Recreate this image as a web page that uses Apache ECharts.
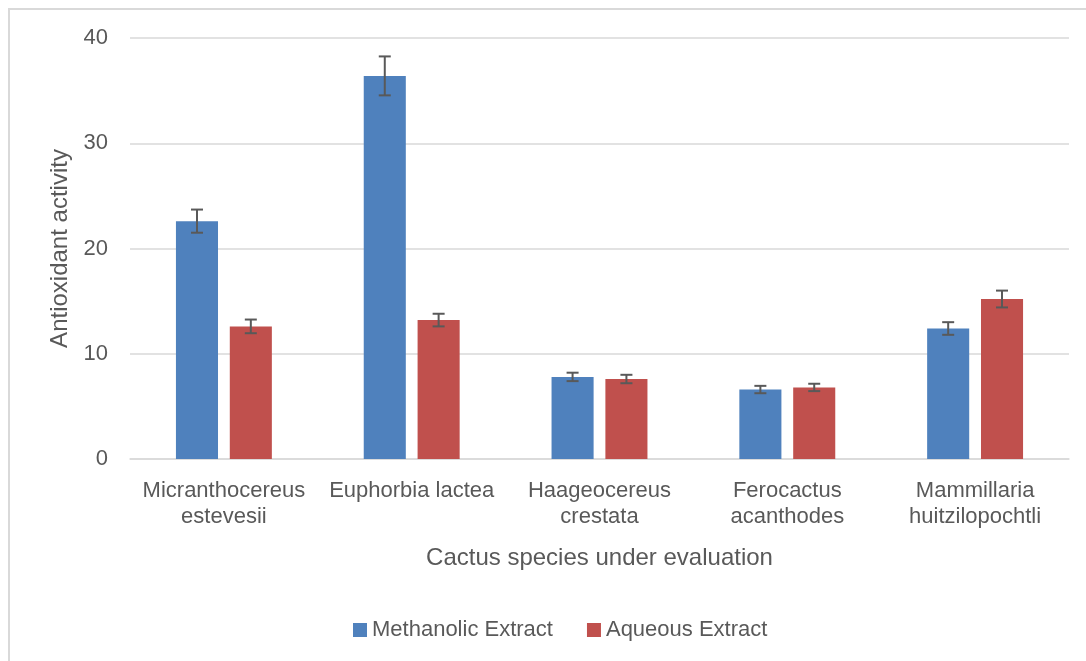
<!DOCTYPE html>
<html>
<head>
<meta charset="utf-8">
<script src="https://cdn.jsdelivr.net/npm/echarts@6/dist/echarts.min.js"></script>
<style>
  html, body { margin: 0; padding: 0; background: #fff; }
  #chart { width: 1086px; height: 661px; }
</style>
</head>
<body>
<div id="chart"></div>
<script>
// 数据
var categories = ['Micranthocereus\nestevesii', 'Euphorbia lactea', 'Haageocereus\ncrestata', 'Ferocactus\nacanthodes', 'Mammillaria\nhuitzilopochtli'];
var methanolic = [22.6, 36.4, 7.8, 6.6, 12.4];
var methanolicErr = [1.1, 1.85, 0.4, 0.35, 0.6];
var aqueous = [12.6, 13.2, 7.6, 6.8, 15.2];
var aqueousErr = [0.65, 0.6, 0.4, 0.35, 0.8];
var yTicks = [0, 10, 20, 30, 40];

var textColor = '#595959';
var fontFamily = '"Liberation Sans", Arial, sans-serif';
var barWidthRatio = 0.224;
var barGapRatio = 0.28;

// 误差线数据 [类别序号, 下限, 上限]
function errData(vals, errs) {
    return vals.map(function (v, i) { return [i, v - errs[i], v + errs[i]]; });
}

// side: -1 左边的柱子, 1 右边的柱子
function errRender(side) {
    return function (params, api) {
        var bandW = api.size([1, 0])[0];
        var barW = bandW * barWidthRatio;
        var off = side * barW * (1 + barGapRatio) / 2;
        var lo = api.coord([api.value(0), api.value(1)]);
        var hi = api.coord([api.value(0), api.value(2)]);
        var x = lo[0] + off;
        var cap = 6;
        var style = { stroke: '#595959', lineWidth: 2 };
        return {
            type: 'group',
            children: [
                { type: 'line', shape: { x1: x, y1: lo[1], x2: x, y2: hi[1] }, style: style },
                { type: 'line', shape: { x1: x - cap, y1: lo[1], x2: x + cap, y2: lo[1] }, style: style },
                { type: 'line', shape: { x1: x - cap, y1: hi[1], x2: x + cap, y2: hi[1] }, style: style }
            ]
        };
    };
}

var chart = echarts.init(document.getElementById('chart'));
var option = {
    animation: false,
    textStyle: { fontFamily: fontFamily, color: textColor },
    color: ['#4F81BD', '#C0504D'],
    graphic: [{
        type: 'rect',
        shape: { x: 9, y: 9, width: 1100, height: 700 },
        style: { fill: 'none', stroke: '#d9d9d9', lineWidth: 2 },
        silent: true
    }],
    grid: { left: 130, right: 17, top: 38, bottom: 202 },
    legend: {
        data: ['Methanolic Extract', 'Aqueous Extract'],
        left: 348,
        top: 614,
        icon: 'rect',
        itemWidth: 14,
        itemHeight: 14,
        itemGap: 34,
        textStyle: { fontSize: 22, color: textColor, fontFamily: fontFamily }
    },
    xAxis: {
        type: 'category',
        data: categories,
        name: 'Cactus species under evaluation',
        nameLocation: 'middle',
        nameGap: 87,
        nameTextStyle: { fontSize: 24, color: textColor },
        axisLine: { lineStyle: { color: '#d9d9d9', width: 1.5 } },
        axisTick: { show: false },
        axisLabel: { fontSize: 22, color: textColor, lineHeight: 26, margin: 19, interval: 0 }
    },
    yAxis: {
        type: 'value',
        min: yTicks[0],
        max: yTicks[yTicks.length - 1],
        interval: 10,
        name: 'Antioxidant activity',
        nameLocation: 'middle',
        nameGap: 54,
        nameTextStyle: { fontSize: 24, color: textColor },
        axisLine: { show: false },
        axisTick: { show: false },
        axisLabel: { fontSize: 22, color: textColor, margin: 22 },
        splitLine: { lineStyle: { color: '#d9d9d9', width: 1.5 } }
    },
    series: [
        {
            name: 'Methanolic Extract',
            type: 'bar',
            data: methanolic,
            barWidth: (barWidthRatio * 100) + '%',
            barGap: (barGapRatio * 100) + '%'
        },
        {
            name: 'Aqueous Extract',
            type: 'bar',
            data: aqueous,
            barWidth: (barWidthRatio * 100) + '%',
            barGap: (barGapRatio * 100) + '%'
        },
        {
            type: 'custom',
            renderItem: errRender(-1),
            data: errData(methanolic, methanolicErr),
            encode: { x: 0, y: [1, 2] },
            z: 10
        },
        {
            type: 'custom',
            renderItem: errRender(1),
            data: errData(aqueous, aqueousErr),
            encode: { x: 0, y: [1, 2] },
            z: 10
        }
    ]
};
chart.setOption(option);
</script>
</body>
</html>
